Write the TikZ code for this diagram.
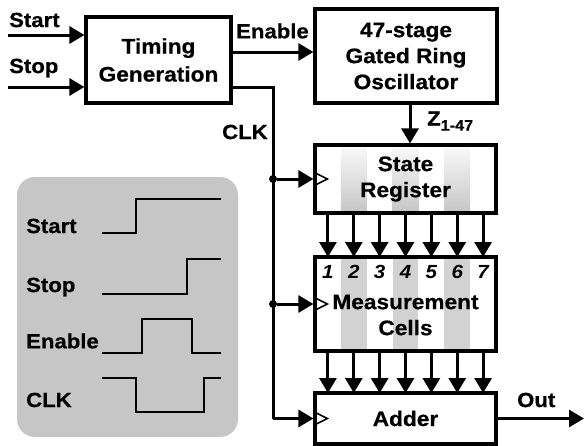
\documentclass[tikz,border=0pt]{standalone}
\usepackage{fontspec}
\setmainfont{Liberation Sans}[FakeStretch=1.08, BoldFeatures={FakeBold=0.6}]
\usetikzlibrary{arrows.meta}
\begin{document}
\begin{tikzpicture}[x=1pt,y=-1pt,
  font=\bfseries\fontsize{20.5}{26}\selectfont,
  blk/.style={draw, line width=3.2pt, inner sep=0pt, align=center},
  conn/.style={line width=3pt, -{Triangle[length=15pt,width=17pt]}},
  plain/.style={line width=3pt},
  wave/.style={line width=2.2pt},
  lbl/.style={anchor=west, inner sep=0pt},
  clkmark/.style={line width=1.6pt, line join=miter},
  dotc/.style={circle, fill=black, inner sep=0pt, minimum size=8pt}]
\useasboundingbox (0,0) rectangle (584,445);
% legend
\fill[gray!45, rounded corners=18pt] (17,177) rectangle (238,437);
\node[lbl] (l1) at (26,226) {Start};
\node[lbl] (l2) at (26,287) {Stop};
\node[lbl] (l3) at (26,341) {Enable};
\node[lbl] (l4) at (26,400) {CLK};
\draw[wave] (102,233) -- (136,233) -- (136,199) -- (221,199);
\draw[wave] (102,294) -- (187,294) -- (187,259) -- (221,259);
\draw[wave] (102,353) -- (142,353) -- (142,319) -- (192,319) -- (192,353) -- (221,353);
\draw[wave] (102,378) -- (136,378) -- (136,412) -- (204,412) -- (204,378) -- (221,378);
% stripes
\foreach \k in {2,4,6} {
  \shade[top color=gray!4, bottom color=gray!45] ({315+25.86*(\k-1)},145) rectangle ({315+25.86*\k},213);
  \fill[gray!35] ({315+25.86*(\k-1)},257) rectangle ({315+25.86*\k},351);
}
% blocks
\node[blk, minimum width=145pt, minimum height=86pt, font=\bfseries\fontsize{21}{28}\selectfont] (tg) at (158.5,60) {Timing\\Generation};
\node[blk, minimum width=182pt, minimum height=94pt, font=\bfseries\fontsize{21}{26}\selectfont] (osc) at (406,56) {47-stage\\Gated Ring\\Oscillator};
\node[blk, minimum width=181pt, minimum height=68pt, font=\bfseries\fontsize{21}{26}\selectfont] (sr) at (405.5,179) {State\\Register};
\node[blk, minimum width=181pt, minimum height=94pt] (mc) at (405.5,304) {};
\node[inner sep=0pt, align=center, font=\bfseries\fontsize{21}{26}\selectfont] (mct) at (405.5,315) {Measurement\\Cells};
\node[blk, minimum width=181pt, minimum height=51pt, font=\bfseries\fontsize{21}{26}\selectfont] (add) at (405.5,418.5) {Adder};
\foreach \k in {1,...,7} {
  \node[font=\bfseries\itshape\fontsize{19}{20}\selectfont, inner sep=0pt] (n\k) at ({315+25.86*(\k-0.5)},272) {\k};
  \draw[conn] ({315+25.86*(\k-0.5)},213) -- ({315+25.86*(\k-0.5)},257);
  \draw[conn] ({315+25.86*(\k-0.5)},351) -- ({315+25.86*(\k-0.5)},393);
}
% clock marks
\foreach \n in {sr,mc,add} {
  \draw[clkmark] ([yshift=7pt]\n.west) -- ([xshift=14pt]\n.west) -- ([yshift=-7pt]\n.west);
}
% inputs
\coordinate (sin) at (8,35);
\coordinate (pin) at (8,87);
\draw[conn] (sin) -- (sin -| tg.west);
\draw[conn] (pin) -- (pin -| tg.west);
\node[lbl] (ls) at (9,20) {Start};
\node[lbl] (lp) at (9,68) {Stop};
% enable
\draw[conn] ([yshift=8pt]tg.east) -- ([yshift=4pt]osc.west);
\node[lbl] (le) at (236,31) {Enable};
% Z
\draw[conn] ([xshift=4pt]osc.south) -- ([xshift=4.5pt]sr.north);
\node[lbl] (lz) at (427,121) {Z\raisebox{-5pt}{\fontsize{15}{15}\selectfont 1-47}};
% CLK
\coordinate (ck0) at ([yshift=-27pt]tg.east);
\coordinate (ck1) at (273,87);
\coordinate (ck2) at (273,418.5);
\draw[plain, line join=miter] (ck0) -- (ck1) -- (ck2);
\draw[conn] (ck2) -- (add.west);
\node[dotc] (d1) at (273,179) {};
\node[dotc] (d2) at (273,304) {};
\draw[conn] (d1) -- (sr.west);
\draw[conn] (d2) -- (mc.west);
\node[lbl] (lc) at (222,132) {CLK};
% out
\coordinate (oend) at (584,418.5);
\draw[conn] (add.east) -- (oend);
\node[lbl] (lo) at (517,400) {Out};
\end{tikzpicture}
\end{document}
